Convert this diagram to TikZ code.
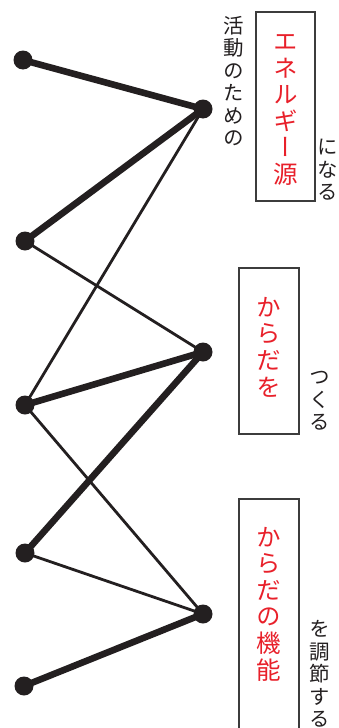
\documentclass[tikz,border=0pt]{standalone}
\usepackage{fontspec}
\newfontfamily\jpv[RawFeature=+vert]{Noto Sans CJK JP}
\definecolor{jred}{RGB}{232,32,42}
\definecolor{jink}{RGB}{35,31,32}
\definecolor{jbox}{RGB}{60,60,60}
\begin{document}
\begin{tikzpicture}[x=1pt,y=-1pt,
  dot/.style={circle,fill=jink,inner sep=0pt,minimum size=19pt},
  thickline/.style={draw=jink,line width=6.6pt},
  thinline/.style={draw=jink,line width=2.8pt},
  box/.style={draw=jbox,line width=1.2pt,inner sep=0pt},
  redtxt/.style={text=jred,align=center,inner sep=0pt,font={\jpv\fontsize{24.5}{26.6}\selectfont}},
  blktxt/.style={text=jink,align=center,inner sep=0pt,font={\jpv\fontsize{20.5}{22.4}\selectfont}}]
\useasboundingbox (0,0) rectangle (339,728);
% boxes
\node[box,minimum width=59pt,minimum height=189pt] (b1) at (285.5,106.5) {};
\node[box,minimum width=60pt,minimum height=166pt] (b2) at (269,351) {};
\node[box,minimum width=60pt,minimum height=240pt] (b3) at (269,619) {};
% texts
\node[redtxt] (t1) at (286,110) {エ\\ネ\\ル\\ギ\\ー\\源};
\node[redtxt] (t2) at (269,347) {か\\ら\\だ\\を};
\node[redtxt] (t3) at (269,604) {か\\ら\\だ\\の\\機\\能};
\node[blktxt] (s1) at (234,81) {活\\動\\の\\た\\め\\の};
\node[blktxt] (s2) at (328,170) {に\\な\\る};
\node[blktxt] (s3) at (320,401) {つ\\く\\る};
\node[blktxt] (s4) at (320,674) {を\\調\\節\\す\\る};
% dots
\coordinate (L1) at (23,60);
\coordinate (L2) at (25,241);
\coordinate (L3) at (25,405);
\coordinate (L4) at (25,553);
\coordinate (L5) at (24,686);
\coordinate (R1) at (203,109);
\coordinate (R2) at (203,352);
\coordinate (R3) at (203,614);
\draw[thinline] (L2) -- (R2);
\draw[thinline] (L3) -- (R1);
\draw[thinline] (L3) -- (R3);
\draw[thinline] (L4) -- (R3);
\draw[thickline] (L1) -- (R1);
\draw[thickline] (L2) -- (R1);
\draw[thickline] (L3) -- (R2);
\draw[thickline] (L4) -- (R2);
\draw[thickline] (L5) -- (R3);
\foreach \p in {L1,L2,L3,L4,L5,R1,R2,R3} \node[dot] (d\p) at (\p) {};
\end{tikzpicture}
\end{document}
